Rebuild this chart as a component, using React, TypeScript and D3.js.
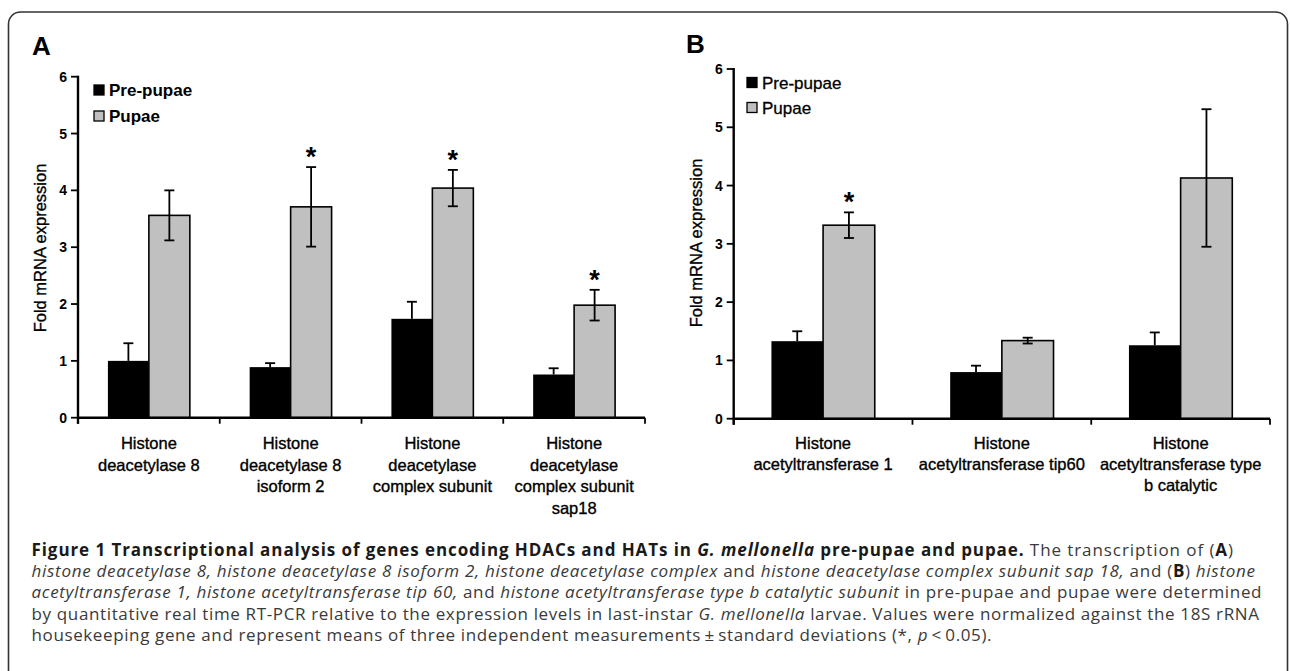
import React from 'react';
import * as d3 from 'd3';

// ---------- data ----------
const seriesNames = ['Pre-pupae', 'Pupae'];
const yTicks = [0, 1, 2, 3, 4, 5, 6];

const categoriesA = [
  ['Histone', 'deacetylase 8'],
  ['Histone', 'deacetylase 8', 'isoform 2'],
  ['Histone', 'deacetylase', 'complex subunit'],
  ['Histone', 'deacetylase', 'complex subunit', 'sap18'],
];
const prePupaeA = [1.0, 0.89, 1.74, 0.76];
const prePupaeErrA = [0.31, 0.07, 0.3, 0.11];
const pupaeA = [3.56, 3.71, 4.04, 1.98];
const pupaeErrA = [0.44, 0.7, 0.32, 0.27];
const significantA = [false, true, true, true];

const categoriesB = [
  ['Histone', 'acetyltransferase 1'],
  ['Histone', 'acetyltransferase tip60'],
  ['Histone', 'acetyltransferase type', 'b catalytic'],
];
const prePupaeB = [1.33, 0.8, 1.26];
const prePupaeErrB = [0.17, 0.11, 0.22];
const pupaeB = [3.32, 1.34, 4.13];
const pupaeErrB = [0.22, 0.05, 1.18];
const significantB = [true, false, false];

type Seg = { t: string; b?: boolean; i?: boolean };
const captionLines: Seg[][] = [
  [
    { t: 'Figure 1 Transcriptional analysis of genes encoding HDACs and HATs in ', b: true },
    { t: 'G. mellonella', b: true, i: true },
    { t: ' pre-pupae and pupae.', b: true },
    { t: ' The transcription of (' },
    { t: 'A', b: true },
    { t: ')' },
  ],
  [
    { t: 'histone deacetylase 8, histone deacetylase 8 isoform 2, histone deacetylase complex', i: true },
    { t: ' and ' },
    { t: 'histone deacetylase complex subunit sap 18,', i: true },
    { t: ' and (' },
    { t: 'B', b: true },
    { t: ') ' },
    { t: 'histone', i: true },
  ],
  [
    { t: 'acetyltransferase 1, histone acetyltransferase tip 60,', i: true },
    { t: ' and ' },
    { t: 'histone acetyltransferase type b catalytic subunit', i: true },
    { t: ' in pre-pupae and pupae were determined' },
  ],
  [
    { t: 'by quantitative real time RT-PCR relative to the expression levels in last-instar ' },
    { t: 'G. mellonella', i: true },
    { t: ' larvae. Values were normalized against the 18S rRNA' },
  ],
  [
    { t: 'housekeeping gene and represent means of three independent measurements\u2009\u00b1\u2009standard deviations (*, ' },
    { t: 'p', i: true },
    { t: '\u2009<\u20090.05).' },
  ],
];

// ---------- layout ----------
const CHART_FONT = "'Liberation Sans', Arial, Helvetica, sans-serif";
const CAPTION_FONT = "'Open Sans', 'Noto Sans', sans-serif";
const PUPAE_FILL = '#c0c0c0';

type PanelProps = {
  letter: string;
  letterX: number;
  letterY: number;
  cats: string[][];
  pre: number[];
  preErr: number[];
  pup: number[];
  pupErr: number[];
  sig: boolean[];
  x0: number;
  x1: number;
  yTop: number;
  yBottom: number;
  legX: number;
  legY: number[];
  legBold: boolean;
  titleX: number;
  titleY: number;
  labelY: number;
  labelGap: number;
};

function Panel(p: PanelProps) {
  const idx = p.cats.map((_, i) => String(i));
  const x = d3.scaleBand<string>().domain(idx).range([p.x0, p.x1]).padding(0);
  const bw = x.bandwidth();
  const inner = d3
    .scaleBand<string>()
    .domain(['pre', 'pup'])
    .range([0, bw])
    .paddingInner(0)
    .paddingOuter(0.73);
  const barW = inner.bandwidth();
  const y = d3.scaleLinear().domain([0, 6]).range([p.yBottom, p.yTop]);
  const y0 = y(0);
  const cap = 5;
  const boundaries = d3.range(p.cats.length + 1).map((i) => p.x0 + i * bw);

  return (
    <g fontFamily={CHART_FONT}>
      <text x={p.letterX} y={p.letterY} fontSize={26} fontWeight="bold" fill="#000">
        {p.letter}
      </text>

      {/* bars */}
      {idx.map((k, i) => {
        const xp = (x(k) as number) + (inner('pre') as number);
        const xu = (x(k) as number) + (inner('pup') as number);
        const cp = xp + barW / 2;
        const cu = xu + barW / 2;
        const preTop = y(p.pre[i]);
        const pupTop = y(p.pup[i]);
        const preErrTop = y(p.pre[i] + p.preErr[i]);
        const pupErrTop = y(p.pup[i] + p.pupErr[i]);
        const pupErrBot = y(p.pup[i] - p.pupErr[i]);
        return (
          <g key={k}>
            <rect x={xp} y={preTop} width={barW} height={y0 - preTop} fill="#000" />
            <line x1={cp} x2={cp} y1={preTop} y2={preErrTop} stroke="#000" strokeWidth={1.8} />
            <line x1={cp - cap} x2={cp + cap} y1={preErrTop} y2={preErrTop} stroke="#000" strokeWidth={1.8} />
            <rect
              x={xu}
              y={pupTop}
              width={barW}
              height={y0 - pupTop}
              fill={PUPAE_FILL}
              stroke="#000"
              strokeWidth={1.6}
            />
            <line x1={cu} x2={cu} y1={pupErrBot} y2={pupErrTop} stroke="#000" strokeWidth={1.8} />
            <line x1={cu - cap} x2={cu + cap} y1={pupErrTop} y2={pupErrTop} stroke="#000" strokeWidth={1.8} />
            <line x1={cu - cap} x2={cu + cap} y1={pupErrBot} y2={pupErrBot} stroke="#000" strokeWidth={1.8} />
            {p.sig[i] && (
              <text x={cu} y={pupErrTop - 1} textAnchor="middle" fontSize={27} fontWeight="bold" fill="#000">
                *
              </text>
            )}
          </g>
        );
      })}

      {/* y axis */}
      <line x1={p.x0} x2={p.x0} y1={p.yTop - 1} y2={y0 + 6} stroke="#000" strokeWidth={2.4} />
      {yTicks.map((t) => (
        <g key={t}>
          <line x1={p.x0 - 7} x2={p.x0} y1={y(t)} y2={y(t)} stroke="#000" strokeWidth={1.8} />
          <text
            x={p.x0 - 11}
            y={y(t)}
            dy="0.36em"
            textAnchor="end"
            fontSize={14}
            fontWeight="bold"
            fill="#000"
          >
            {t}
          </text>
        </g>
      ))}
      <text
        transform={`translate(${p.titleX},${p.titleY}) rotate(-90)`}
        textAnchor="middle"
        fontSize={16.5}
        fill="#000"
        stroke="#000"
        strokeWidth={0.35}
      >
        Fold mRNA expression
      </text>

      {/* x axis */}
      <line x1={p.x0} x2={p.x1} y1={y0} y2={y0} stroke="#000" strokeWidth={2.4} />
      {boundaries.map((bx, i) => (
        <line key={i} x1={bx} x2={bx} y1={y0} y2={y0 + 6} stroke="#000" strokeWidth={1.8} />
      ))}
      {p.cats.map((lines, i) => (
        <text
          key={i}
          x={(x(String(i)) as number) + bw / 2}
          y={p.labelY}
          textAnchor="middle"
          fontSize={16.5}
          fill="#000"
          stroke="#000"
          strokeWidth={0.35}
        >
          {lines.map((l, j) => (
            <tspan key={j} x={(x(String(i)) as number) + bw / 2} y={p.labelY + j * p.labelGap}>
              {l}
            </tspan>
          ))}
        </text>
      ))}

      {/* legend */}
      {seriesNames.map((s, i) => (
        <g key={s}>
          <rect
            x={p.legX}
            y={p.legY[i] - 11}
            width={10}
            height={10}
            fill={i === 0 ? '#000' : PUPAE_FILL}
            stroke="#000"
            strokeWidth={1.3}
          />
          <text
            x={p.legX + 15}
            y={p.legY[i]}
            fontSize={17}
            fontWeight={p.legBold ? 'bold' : 'normal'}
            fill="#000"
            stroke={p.legBold ? 'none' : '#000'}
            strokeWidth={0.3}
          >
            {s}
          </text>
        </g>
      ))}
    </g>
  );
}

const captionX = 31.5;
const captionEnds = [1233, 1255, 1261.5, 1259, 991.5];
const captionBaselines = [555.5, 576.5, 598, 619.5, 641];

export default function App() {
  return (
    <svg
      width={1290}
      height={671}
      style={{ position: 'absolute', left: 0, top: 0, background: '#fff' }}
    >
      <rect x={0} y={0} width={1290} height={671} fill="#fff" />
      <rect x={8.5} y={12} width={1279} height={720} rx={12} ry={12} fill="none" stroke="#333" strokeWidth={1.6} />

      <Panel
        letter="A"
        letterX={32}
        letterY={55}
        cats={categoriesA}
        pre={prePupaeA}
        preErr={prePupaeErrA}
        pup={pupaeA}
        pupErr={pupaeErrA}
        sig={significantA}
        x0={78}
        x1={645}
        yTop={76.7}
        yBottom={417.7}
        legX={94}
        legY={[96, 122]}
        legBold={true}
        titleX={46}
        titleY={248}
        labelY={449}
        labelGap={21.7}
      />
      <Panel
        letter="B"
        letterX={686}
        letterY={53}
        cats={categoriesB}
        pre={prePupaeB}
        preErr={prePupaeErrB}
        pup={pupaeB}
        pupErr={pupaeErrB}
        sig={significantB}
        x0={733.7}
        x1={1270}
        yTop={69}
        yBottom={418.7}
        legX={747}
        legY={[88.5, 113.5]}
        legBold={false}
        titleX={702}
        titleY={243}
        labelY={449}
        labelGap={20.8}
      />

      <g fontFamily={CAPTION_FONT} fontSize={17}>
        {captionLines.map((segs, li) => (
          <text
            key={li}
            x={captionX}
            y={captionBaselines[li]}
            textLength={captionEnds[li] - captionX}
            lengthAdjust="spacing"
            fill="#3a3a3a"
          >
            {segs.map((s, si) => (
              <tspan
                key={si}
                fontWeight={s.b ? 'bold' : 'normal'}
                fontStyle={s.i ? 'italic' : 'normal'}
                fill={s.b ? '#1a1a1a' : '#3a3a3a'}
              >
                {s.t}
              </tspan>
            ))}
          </text>
        ))}
      </g>
    </svg>
  );
}
